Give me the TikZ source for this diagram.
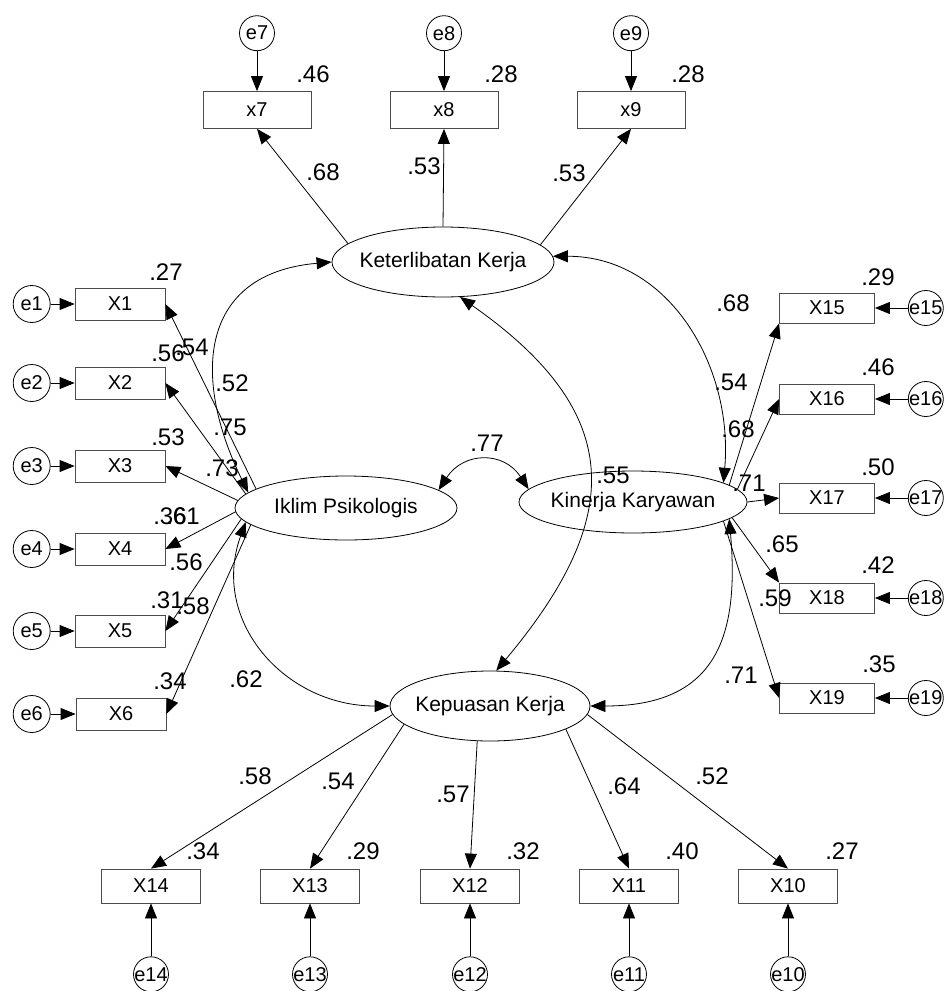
\documentclass[tikz,border=0pt]{standalone}
\usepackage{fontspec}
\setmainfont{Liberation Sans}
\usetikzlibrary{positioning,arrows.meta,shapes.geometric}

\tikzset{
	>={Triangle[length=15pt,width=12pt]},
	latent/.style={draw, ellipse, inner xsep=-20pt, inner ysep=0pt, font=\fontsize{21}{21}\selectfont},
	obs/.style={draw=black!70, rectangle, inner sep=0pt, font=\fontsize{20}{20}\selectfont},
	topobs/.style={obs, minimum width=108pt, minimum height=37pt},
	leftobs/.style={obs, minimum width=90pt, minimum height=32pt},
	rightobs/.style={obs, minimum width=95pt, minimum height=30pt},
	botobs/.style={obs, minimum width=99pt, minimum height=34pt},
	err/.style={draw, circle, minimum size=35pt, inner sep=0pt, font=\fontsize{20}{20}\selectfont},
	lefterr/.style={err, minimum size=37pt},
	coef/.style={inner sep=0pt, font=\fontsize{24}{24}\selectfont},
	loading/.style={->},
	cov/.style={<->}
}

\begin{document}
\begin{tikzpicture}[x=1pt, y=1pt, line width=0.8pt]
	
	\useasboundingbox (0,0) rectangle (946,-991);
	
	\node[
	latent,
	minimum width=222pt,
	minimum height=70pt
	]
	(ket) at (443,-262)
	{Keterlibatan Kerja};
	
	\node[
	latent,
	minimum width=222pt,
	minimum height=64pt
	]
	(ikl) at (346,-508)
	{Iklim Psikologis};
	
	\node[
	latent,
	minimum width=228pt,
	minimum height=62pt
	]
	(kin) at (633,-502)
	{Kinerja Karyawan};
	
	\node[
	latent,
	minimum width=200pt,
	minimum height=70pt
	]
	(kep) at (490,-706)
	{Kepuasan Kerja};
	
	\node[topobs] (x7) at (257,-110) {x7};
	\node[topobs] (x8) at (444,-110) {x8};
	\node[topobs] (x9) at (631,-110) {x9};
	
	\node[leftobs] (X1) at (120,-304) {X1};
	\node[leftobs] (X2) at (120,-383) {X2};
	\node[leftobs] (X3) at (120,-466) {X3};
	\node[leftobs] (X4) at (120,-549) {X4};
	\node[leftobs] (X5) at (120,-631) {X5};
	\node[leftobs] (X6) at (121,-714) {X6};
	
	\node[rightobs] (X15) at (827,-308) {X15};
	\node[rightobs] (X16) at (827,-399) {X16};
	\node[rightobs] (X17) at (827,-498) {X17};
	\node[rightobs] (X18) at (827,-598) {X18};
	\node[rightobs] (X19) at (827,-698) {X19};
	
	\node[botobs] (X14) at (151,-886) {X14};
	\node[botobs] (X13) at (310,-886) {X13};
	\node[botobs] (X12) at (470,-886) {X12};
	\node[botobs] (X11) at (629,-886) {X11};
	\node[botobs] (X10) at (788,-886) {X10};
	
	\node[err, above=40pt of x7] (e7) {\makebox[0pt]{e7}};
	\node[err, above=40pt of x8] (e8) {\makebox[0pt]{e8}};
	\node[err, above=40pt of x9] (e9) {\makebox[0pt]{e9}};
	
	\node[lefterr, left=24pt of X1] (e1) {\makebox[0pt]{e1}};
	\node[lefterr, left=24pt of X2] (e2) {\makebox[0pt]{e2}};
	\node[lefterr, left=24pt of X3] (e3) {\makebox[0pt]{e3}};
	\node[lefterr, left=24pt of X4] (e4) {\makebox[0pt]{e4}};
	\node[lefterr, left=24pt of X5] (e5) {\makebox[0pt]{e5}};
	\node[lefterr, left=25pt of X6] (e6) {\makebox[0pt]{e6}};
	
	\node[err, right=33pt of X15] (e15) {\makebox[0pt]{e15}};
	\node[err, right=33pt of X16] (e16) {\makebox[0pt]{e16}};
	\node[err, right=33pt of X17] (e17) {\makebox[0pt]{e17}};
	\node[err, right=33pt of X18] (e18) {\makebox[0pt]{e18}};
	\node[err, right=33pt of X19] (e19) {\makebox[0pt]{e19}};
	
	\node[err, below=53pt of X14] (e14) {\makebox[0pt]{e14}};
	\node[err, below=53pt of X13] (e13) {\makebox[0pt]{e13}};
	\node[err, below=53pt of X12] (e12) {\makebox[0pt]{e12}};
	\node[err, below=53pt of X11] (e11) {\makebox[0pt]{e11}};
	\node[err, below=53pt of X10] (e10) {\makebox[0pt]{e10}};
	
	\draw[loading] (e7) -- (x7);
	\draw[loading] (e8) -- (x8);
	\draw[loading] (e9) -- (x9);
	\draw[loading] (e1) -- (X1);
	\draw[loading] (e2) -- (X2);
	\draw[loading] (e3) -- (X3);
	\draw[loading] (e4) -- (X4);
	\draw[loading] (e5) -- (X5);
	\draw[loading] (e6) -- (X6);
	\draw[loading] (e15) -- (X15);
	\draw[loading] (e16) -- (X16);
	\draw[loading] (e17) -- (X17);
	\draw[loading] (e18) -- (X18);
	\draw[loading] (e19) -- (X19);
	\draw[loading] (e14) -- (X14);
	\draw[loading] (e13) -- (X13);
	\draw[loading] (e12) -- (X12);
	\draw[loading] (e11) -- (X11);
	\draw[loading] (e10) -- (X10);
	
	\draw[loading] (ket.169) -- (x7.south);
	\draw[loading] (ket.north) -- (x8.south);
	\draw[loading] (ket.10) -- (x9.south);
	
	\draw[loading] (ikl.168) -- (X1.east);
	\draw[loading] (ikl.172) -- (X2.east);
	\draw[loading] (ikl.176) -- (X3.east);
	\draw[loading] (ikl.182) -- (X4.east);
	\draw[loading] (ikl.186) -- (X5.east);
	\draw[loading] (ikl.190) -- (X6.east);
	
	\draw[loading] (kin.10) -- (X15.south west);
	\draw[loading] (kin.7) -- (X16.west);
	\draw[loading] (kin.east) -- (X17.west);
	\draw[loading] (kin.351) -- (X18.north west);
	\draw[loading] (kin.348) -- (X19.west);
	
	\draw[loading] (kep.185) -- (X14.north);
	\draw[loading] (kep.192) -- (X13.north);
	\draw[loading] (kep.250) -- (X12.north);
	\draw[loading] (kep.343) -- (X11.north);
	\draw[loading] (kep.355) -- (X10.north);
	
	\draw[cov] (ikl.171) to[out=116, in=185, looseness=1.37] (ket.west);
	\draw[cov] (ikl.188) to[out=250, in=180, looseness=1.15] (kep.west);
	\draw[cov] (ikl.11) to[out=57, in=123, looseness=1.3] (kin.173);
	\draw[cov] (ket.3) to[out=0, in=85, looseness=1.05] (kin.12);
	\draw[cov] (ket.296) to[out=-35, in=50, looseness=1.37] (kep.80);
	\draw[cov] (kin.350) to[out=275, in=0, looseness=1.35] (kep.east);
	
	\node[coef] (r7) at (313,-74) {.46};
	\node[coef] (r8) at (501,-74) {.28};
	\node[coef] (r9) at (688,-74) {.28};
	\node[coef] (l7) at (323,-172) {.68};
	\node[coef] (l8) at (424,-166) {.53};
	\node[coef] (l9) at (569,-173) {.53};
	
	\node[coef] (r1) at (166,-272) {.27};
	\node[coef] (r2) at (168,-353) {.56};
	\node[coef] (r3) at (168,-437) {.53};
	\node[coef] (r4) at (170,-516) {.36};
	\node[coef] (r5) at (167,-600) {.31};
	\node[coef] (r6) at (170,-681) {.34};
	\node[coef] (l1) at (232,-383) {.52};
	\node[coef] (l2) at (230,-427) {.75};
	\node[coef] (l3) at (222,-468) {.73};
	\node[coef] (l4) at (183,-516) {.61};
	\node[coef] (l5) at (186,-562) {.56};
	\node[coef] (l6) at (193,-606) {.58};
	
	\node[coef] (r15) at (878,-277) {.29};
	\node[coef] (r16) at (878,-367) {.46};
	\node[coef] (r17) at (878,-467) {.50};
	\node[coef] (r18) at (878,-565) {.42};
	\node[coef] (r19) at (879,-664) {.35};
	\node[coef] (l15) at (731,-382) {.54};
	\node[coef] (l16) at (738,-429) {.68};
	\node[coef] (l17) at (749,-483) {.71};
	\node[coef] (l18) at (782,-544) {.65};
	\node[coef] (l19) at (775,-598) {.59};
	
	\node[coef] (r14) at (203,-851) {.34};
	\node[coef] (r13) at (363,-851) {.29};
	\node[coef] (r12) at (523,-851) {.32};
	\node[coef] (r11) at (682,-851) {.40};
	\node[coef] (r10) at (842,-851) {.27};
	\node[coef] (l14) at (255,-776) {.58};
	\node[coef] (l13) at (338,-781) {.54};
	\node[coef] (l12) at (453,-794) {.57};
	\node[coef] (l11) at (624,-786) {.64};
	\node[coef] (l10) at (712,-776) {.52};
	
	\node[coef] (cIklKet) at (192,-347) {.54};
	\node[coef] (cIklKep) at (246,-679) {.62};
	\node[coef] (cIklKin) at (487,-443) {.77};
	\node[coef] (cKetKin) at (733,-303) {.68};
	\node[coef] (cKetKep) at (613,-475) {.55};
	\node[coef] (cKinKep) at (741,-675) {.71};
	
\end{tikzpicture}
\end{document}
